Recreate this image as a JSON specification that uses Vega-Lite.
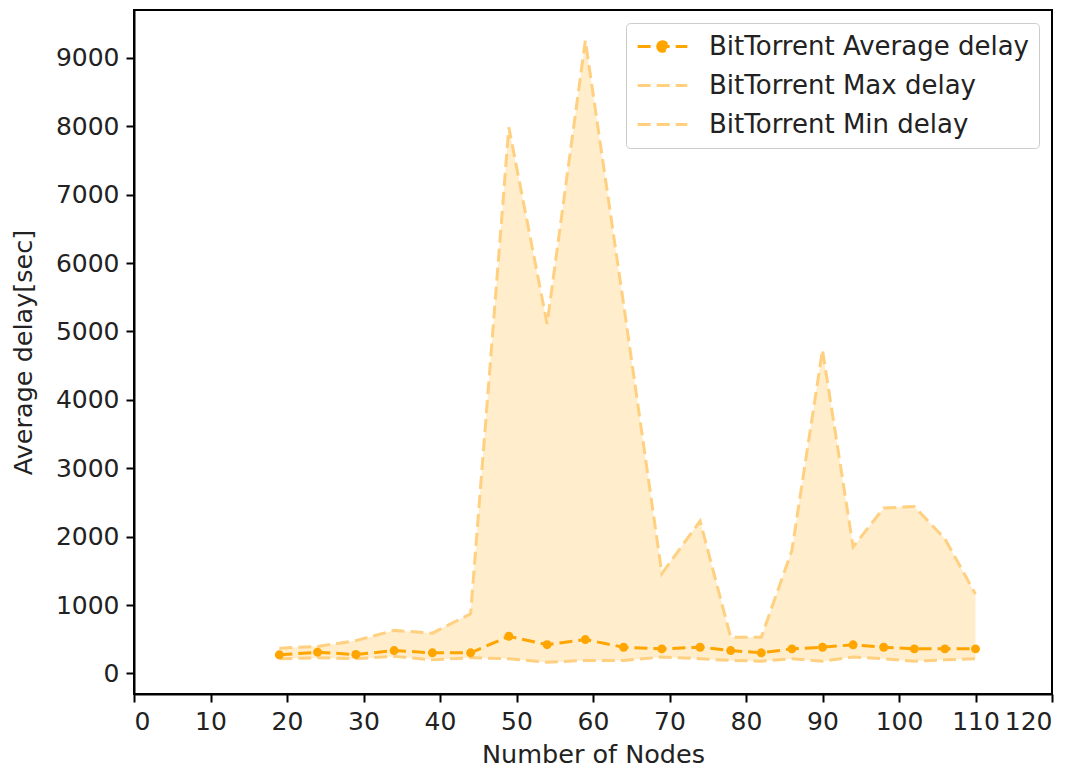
{
  "$schema": "https://vega.github.io/schema/vega-lite/v6.json",
  "width": 918,
  "height": 684,
  "autosize": "none",
  "padding": {"left": 134, "top": 10, "right": 34, "bottom": 80},
  "background": "white",
  "config": {
    "font": "DejaVu Sans",
    "view": {"stroke": "black", "strokeWidth": 2},
    "axis": {
      "grid": false,
      "domainColor": "black",
      "domainWidth": 2,
      "tickColor": "black",
      "tickWidth": 2,
      "tickSize": 8,
      "labelFontSize": 25,
      "labelColor": "#222",
      "titleFontSize": 25.5,
      "titleFontWeight": "normal",
      "titleColor": "#222",
      "labelPadding": 7
    }
  },
  "data": {
    "values": [
      {"nodes": 19, "avg": 273, "max": 370, "min": 215},
      {"nodes": 24, "avg": 311, "max": 395, "min": 230},
      {"nodes": 29, "avg": 277, "max": 480, "min": 215},
      {"nodes": 34, "avg": 335, "max": 630, "min": 250},
      {"nodes": 39, "avg": 302, "max": 590, "min": 200},
      {"nodes": 44, "avg": 302, "max": 873, "min": 230},
      {"nodes": 49, "avg": 544, "max": 7985, "min": 215},
      {"nodes": 54, "avg": 421, "max": 5110, "min": 165},
      {"nodes": 59, "avg": 496, "max": 9254, "min": 190},
      {"nodes": 64, "avg": 384, "max": 5400, "min": 190},
      {"nodes": 69, "avg": 360, "max": 1460, "min": 240},
      {"nodes": 74, "avg": 384, "max": 2230, "min": 215},
      {"nodes": 78, "avg": 335, "max": 530, "min": 190},
      {"nodes": 82, "avg": 302, "max": 530, "min": 180},
      {"nodes": 86, "avg": 360, "max": 1800, "min": 215},
      {"nodes": 90, "avg": 384, "max": 4730, "min": 180},
      {"nodes": 94, "avg": 419, "max": 1850, "min": 240},
      {"nodes": 98, "avg": 384, "max": 2420, "min": 215},
      {"nodes": 102, "avg": 360, "max": 2440, "min": 180},
      {"nodes": 106, "avg": 360, "max": 1970, "min": 200},
      {"nodes": 110, "avg": 360, "max": 1160, "min": 215}
    ]
  },
  "layer": [
    {
      "mark": {"type": "area", "color": "#FFEDCC", "opacity": 1},
      "encoding": {
        "x": {"field": "nodes", "type": "quantitative",
              "scale": {"domain": [0, 120], "nice": false, "zero": false},
              "axis": {"values": [0,10,20,30,40,50,60,70,80,90,100,110,120], "format": "d", "title": "Number of Nodes", "titlePadding": 8}},
        "y": {"field": "min", "type": "quantitative",
              "scale": {"domain": [-300, 9700], "nice": false, "zero": false},
              "axis": {"values": [0,1000,2000,3000,4000,5000,6000,7000,8000,9000], "format": "d", "title": "Average delay[sec]", "titlePadding": 19}},
        "y2": {"field": "max"}
      }
    },
    {
      "transform": [{"fold": ["avg", "max", "min"], "as": ["series", "delay"]}],
      "mark": {"type": "line", "strokeWidth": 3},
      "encoding": {
        "x": {"field": "nodes", "type": "quantitative"},
        "y": {"field": "delay", "type": "quantitative"},
        "order": {"field": "nodes", "type": "quantitative"},
        "color": {
          "field": "series", "type": "nominal",
          "scale": {"domain": ["avg", "max", "min"], "range": ["#FFA500", "#FFD080", "#FFD080"]},
          "legend": {
            "title": null,
            "orient": "top-right",
            "offset": 13,
            "padding": 10,
            "fillColor": "white",
            "strokeColor": "#cccccc",
            "cornerRadius": 4,
            "labelFontSize": 26,
            "labelColor": "#222",
            "labelLimit": 0,
            "labelOffset": 33,
            "rowPadding": 12,
            "symbolType": "stroke",
            "symbolSize": 576,
            "symbolOffset": 13,
            "symbolStrokeWidth": 3,
            "labelExpr": "datum.value === 'avg' ? 'BitTorrent Average delay' : datum.value === 'max' ? 'BitTorrent Max delay' : 'BitTorrent Min delay'",
            "encode": {
              "symbols": {
                "update": {
                  "shape": {"signal": "datum.value === 'avg' ? 'M-2.07,0H2.07M-0.4,0A0.4,0.4 0 1,1 0.4,0A0.4,0.4 0 1,1 -0.4,0Z' : 'M-2.07,0H2.07'"},
                  "fill": {"signal": "datum.value === 'avg' ? '#FFA500' : 'transparent'"}
                }
              }
            }
          }
        },
        "strokeDash": {
          "field": "series", "type": "nominal",
          "scale": {"domain": ["avg", "max", "min"], "range": [[13, 6], [13, 6], [13, 6]]},
          "legend": null
        }
      }
    },
    {
      "mark": {"type": "point", "filled": true, "color": "#FFA500", "size": 80, "opacity": 1},
      "encoding": {
        "x": {"field": "nodes", "type": "quantitative"},
        "y": {"field": "avg", "type": "quantitative"}
      }
    }
  ]
}
